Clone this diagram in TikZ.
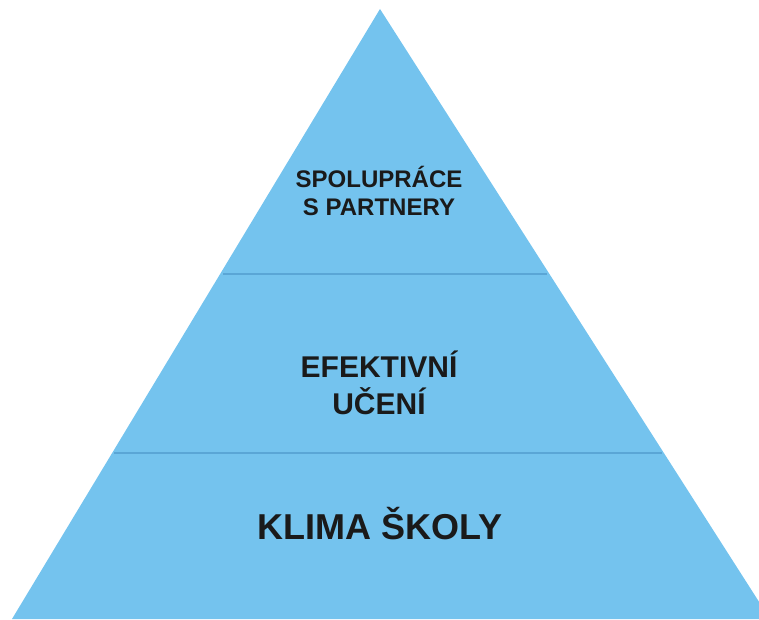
\documentclass[tikz,border=0pt]{standalone}
\usepackage{fontspec}
\setmainfont{Liberation Sans}
\definecolor{pyr}{HTML}{74C3EE}
\definecolor{divl}{HTML}{5AA6D6}
\definecolor{txt}{HTML}{1A1A1A}
\begin{document}
\begin{tikzpicture}[x=1pt,y=1pt,
  lbl/.style={anchor=base,inner sep=0pt,text=txt,font=\bfseries}]
\useasboundingbox (0,0) rectangle (759,619);
\clip (0,0) rectangle (759,619);
\coordinate (apex) at (380,610);
\coordinate (bl) at (12,0);
\coordinate (br) at (770,0);
\fill[pyr] (apex) -- (bl) -- (br) -- cycle;
\coordinate (d1l) at (223,345);
\coordinate (d1r) at (547,345);
\coordinate (d2l) at (114,166);
\coordinate (d2r) at (662,166);
\draw[divl,line width=1.2pt] (d1l) -- (d1r);
\draw[divl,line width=1.2pt] (d2l) -- (d2r);
\node[lbl,font=\bfseries\fontsize{24}{28}\selectfont] (t1) at (379,431) {SPOLUPRÁCE};
\node[lbl,font=\bfseries\fontsize{24}{28}\selectfont] (t2) at (379,403) {S PARTNERY};
\node[lbl,font=\bfseries\fontsize{30}{36}\selectfont] (t3) at (379,242) {EFEKTIVNÍ};
\node[lbl,font=\bfseries\fontsize{30}{36}\selectfont] (t4) at (379,205) {UČENÍ};
\node[lbl,font=\bfseries\fontsize{36}{42}\selectfont] (t5) at (380,80) {KLIMA ŠKOLY};
\end{tikzpicture}
\end{document}
